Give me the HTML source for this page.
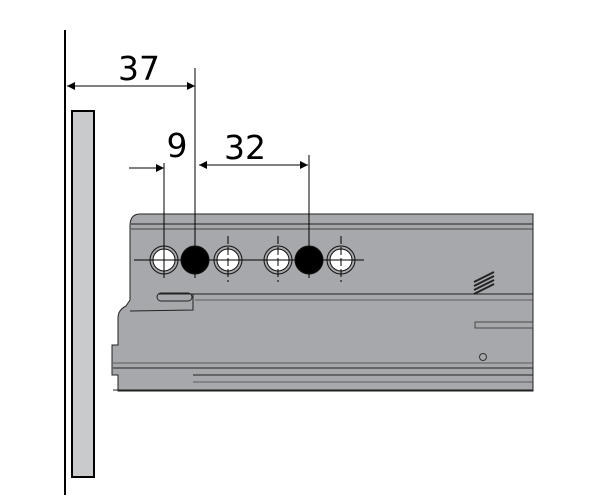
<!DOCTYPE html>
<html><head><style>body{margin:0;background:#fff}svg{display:block}</style></head><body>
<svg width="600" height="500" viewBox="0 0 600 500" xmlns="http://www.w3.org/2000/svg">
<defs><marker id="a" viewBox="0 0 10 10" refX="10" refY="5" markerWidth="10" markerHeight="8" markerUnits="userSpaceOnUse" orient="auto-start-reverse"><path d="M0,0L10,5L0,10z" fill="#000"/></marker></defs>
<line x1="65" y1="30" x2="65" y2="495" stroke="#000" stroke-width="2"/>
<rect x="72" y="111" width="22" height="366" fill="#c8cacb" stroke="#000" stroke-width="2"/>
<path d="M140,214 L533,214 L533,391 L118,391 L118,375 L112,375 L112,345 L118,345 L118,318 Q118,310 126,306 L130,300 L130,226 Q130,214 140,214 Z" fill="#a7a8ab" stroke="#222" stroke-width="1"/>
<line x1="131" y1="224" x2="533" y2="224" stroke="#222" stroke-width="1"/>
<line x1="131" y1="229" x2="533" y2="229" stroke="#222" stroke-width="0.8"/>
<path d="M160,294 L533,294" stroke="#222" stroke-width="1"/>
<path d="M195,300 L533,300" stroke="#444" stroke-width="0.8"/>
<path d="M158,294 L193,294 L193,310 L130,311" fill="none" stroke="#222" stroke-width="1"/>
<rect x="157" y="293" width="35" height="8" rx="4" fill="none" stroke="#222" stroke-width="1"/>
<line x1="113" y1="363" x2="533" y2="363" stroke="#444" stroke-width="0.8"/>
<line x1="113" y1="368" x2="533" y2="368" stroke="#222" stroke-width="1"/>
<line x1="193" y1="375" x2="533" y2="375" stroke="#222" stroke-width="1"/>
<line x1="193" y1="382" x2="533" y2="382" stroke="#444" stroke-width="0.8"/>
<line x1="113" y1="390" x2="533" y2="390" stroke="#222" stroke-width="1"/>
<rect x="475" y="322" width="58" height="6" fill="none" stroke="#333" stroke-width="0.8"/>
<circle cx="483" cy="357" r="3.5" fill="none" stroke="#333"/>
<g stroke="#222" stroke-width="2"><line x1="474" y1="282" x2="494" y2="272"/><line x1="474" y1="286" x2="494" y2="276"/><line x1="474" y1="290" x2="494" y2="280"/><line x1="474" y1="294" x2="494" y2="284"/></g>
<g stroke="#111" stroke-width="1">
<circle cx="164" cy="260" r="14" fill="#a7a8ab"/><circle cx="164" cy="260" r="11" fill="#fff"/>
<circle cx="228" cy="260" r="14" fill="#a7a8ab"/><circle cx="228" cy="260" r="11" fill="#fff"/>
<circle cx="278" cy="260" r="14" fill="#a7a8ab"/><circle cx="278" cy="260" r="11" fill="#fff"/>
<circle cx="341" cy="260" r="14" fill="#a7a8ab"/><circle cx="341" cy="260" r="11" fill="#fff"/>
<circle cx="195" cy="260" r="14" fill="#000"/><circle cx="309" cy="260" r="14" fill="#000"/>
</g>
<line x1="134" y1="260" x2="364" y2="260" stroke="#000" stroke-width="1"/>
<g stroke="#000" stroke-width="1" stroke-dasharray="8,3">
<line x1="228" y1="236" x2="228" y2="282"/><line x1="278" y1="236" x2="278" y2="282"/><line x1="341" y1="236" x2="341" y2="282"/>
</g>
<line x1="195" y1="68" x2="195" y2="278" stroke="#000" stroke-width="1"/>
<line x1="164" y1="163" x2="164" y2="278" stroke="#000" stroke-width="1"/>
<line x1="309" y1="155" x2="309" y2="278" stroke="#000" stroke-width="1"/>
<line x1="67" y1="86" x2="195" y2="86" stroke="#000" stroke-width="1" marker-start="url(#a)" marker-end="url(#a)"/>
<line x1="129" y1="168" x2="164" y2="168" stroke="#000" stroke-width="1" marker-end="url(#a)"/>
<line x1="199" y1="165" x2="308" y2="165" stroke="#000" stroke-width="1" marker-start="url(#a)" marker-end="url(#a)"/>
<g font-family="DejaVu Sans, sans-serif" font-size="33" fill="#000" text-anchor="middle">
<text x="139" y="80">37</text><text x="177" y="157">9</text><text x="245" y="159">32</text>
</g>
</svg>
</body></html>
